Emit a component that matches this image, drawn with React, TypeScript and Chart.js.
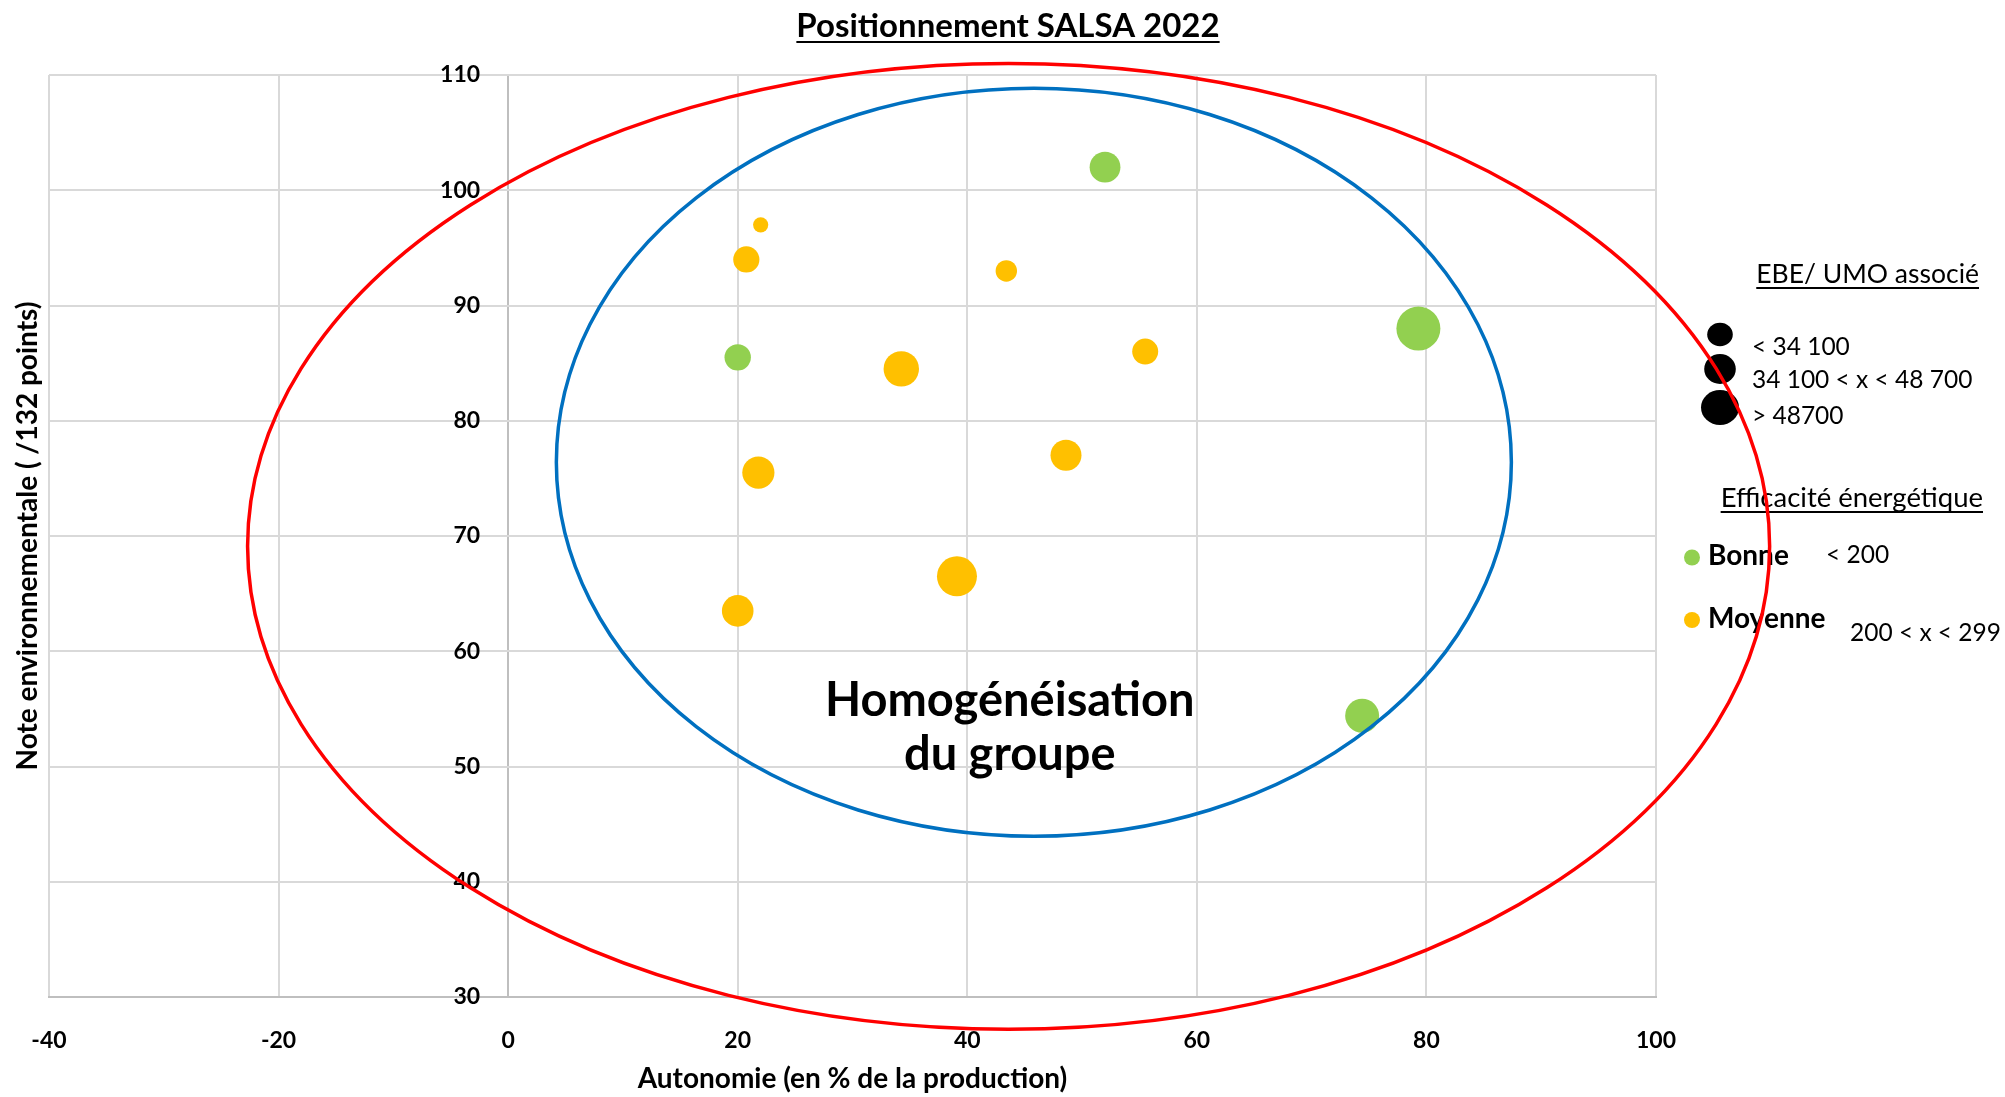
import React, { useEffect, useRef } from 'react';
import { Chart, registerables } from 'chart.js';

Chart.register(...registerables);

// ---------- Texts ----------
const chartTitle = 'Positionnement SALSA 2022';
const xAxisTitle = 'Autonomie (en % de la production)';
const yAxisTitle = 'Note environnementale ( /132 points)';
const groupLabel = ['Homogénéisation', 'du groupe'];

// ---------- Axes ----------
const xMin = -40;
const xMax = 100;
const xStep = 20;
const yMin = 30;
const yMax = 110;
const yStep = 10;

// ---------- Series : Efficacité énergétique "Bonne" ----------
const bonneX = [52, 20, 79.3, 74.4];
const bonneY = [102, 85.5, 88, 54.4];
const bonneR = [15.4, 13.2, 22, 17];

// ---------- Series : Efficacité énergétique "Moyenne" ----------
const moyenneX = [22, 20.75, 43.4, 34.25, 55.5, 21.8, 48.6, 39.1, 20];
const moyenneY = [97, 94, 93, 84.5, 86, 75.5, 77, 66.5, 63.5];
const moyenneR = [7.6, 13.1, 10.7, 17.7, 13, 16.1, 15.5, 20, 15.8];

// ---------- Group ellipses (data units) ----------
const ellipseCx = [43.6, 45.8];
const ellipseCy = [69.1, 76.4];
const ellipseRx = [66.3, 41.6];
const ellipseRy = [41.9, 32.45];

// ---------- Legends ----------
const sizeLegendTitle = 'EBE/ UMO associé';
const sizeLegendLabels = ['< 34 100', '34 100 < x < 48 700', '> 48700'];
const energyLegendTitle = 'Efficacité énergétique';
const energyLabels = ['Bonne', 'Moyenne'];
const energyRanges = ['< 200', '200 < x < 299'];

// ---------- Styles ----------
const GREEN = '#92d050';
const YELLOW = '#ffc000';
const ELLIPSE_COLORS = ['#ff0000', '#0070c0'];
const GRID = '#d9d9d9';
const AXIS = '#bfbfbf';
const FONT = 'Lato, "Open Sans", sans-serif';

function drawText(
  ctx: CanvasRenderingContext2D,
  text: string,
  x: number,
  y: number,
  align: CanvasTextAlign,
  font: string,
  underline = false
) {
  ctx.save();
  ctx.font = font;
  ctx.fillStyle = '#000';
  ctx.textAlign = align;
  ctx.textBaseline = 'alphabetic';
  ctx.fillText(text, x, y);
  if (underline) {
    const w = ctx.measureText(text).width;
    const x0 = align === 'center' ? x - w / 2 : align === 'right' ? x - w : x;
    ctx.fillRect(x0, y + 4, w, 2);
  }
  ctx.restore();
}

const overlayPlugin = {
  id: 'overlay',
  afterDatasetsDraw(chart: any) {
    const ctx: CanvasRenderingContext2D = chart.ctx;
    const xs = chart.scales.x;

    // Title
    drawText(ctx, chartTitle, 1008, 37, 'center', `bold 33px ${FONT}`, true);

    // Group label
    const gx = xs.getPixelForValue(43.7);
    drawText(ctx, groupLabel[0], gx, 716, 'center', `bold 47px ${FONT}`);
    drawText(ctx, groupLabel[1], gx, 770, 'center', `bold 47px ${FONT}`);

    // Size legend
    drawText(ctx, sizeLegendTitle, 1979, 283, 'right', `26.5px ${FONT}`, true);
    const dotCy = [334.5, 369, 407.5];
    const dotRx = [12.8, 15.8, 19];
    const dotRy = [11.7, 15, 17.5];
    const textY = [355, 388, 424];
    sizeLegendLabels.forEach((lab, i) => {
      ctx.save();
      ctx.beginPath();
      ctx.ellipse(1720, dotCy[i], dotRx[i], dotRy[i], 0, 0, Math.PI * 2);
      ctx.fillStyle = '#000';
      ctx.fill();
      ctx.restore();
      drawText(ctx, lab, 1752, textY[i], 'left', `24.5px ${FONT}`);
    });

    // Energy legend
    drawText(ctx, energyLegendTitle, 1983, 507, 'right', `27.5px ${FONT}`, true);
    const eDotY = [557.5, 620];
    const eLabY = [565, 628];
    const eRangeX = [1826, 1850];
    const eRangeY = [563, 641];
    const colors = [GREEN, YELLOW];
    energyLabels.forEach((lab, i) => {
      ctx.save();
      ctx.beginPath();
      ctx.arc(1692, eDotY[i], 8, 0, Math.PI * 2);
      ctx.fillStyle = colors[i];
      ctx.fill();
      ctx.restore();
      drawText(ctx, lab, 1708, eLabY[i], 'left', `bold 28px ${FONT}`);
      drawText(ctx, energyRanges[i], eRangeX[i], eRangeY[i], 'left', `24.5px ${FONT}`);
    });
  },
  afterDraw(chart: any) {
    const ctx: CanvasRenderingContext2D = chart.ctx;
    const xs = chart.scales.x;
    const ys = chart.scales.y;
    ellipseCx.forEach((cx, i) => {
      const px = xs.getPixelForValue(cx);
      const py = ys.getPixelForValue(ellipseCy[i]);
      const rx = Math.abs(xs.getPixelForValue(cx + ellipseRx[i]) - px);
      const ry = Math.abs(ys.getPixelForValue(ellipseCy[i] + ellipseRy[i]) - py);
      ctx.save();
      ctx.beginPath();
      ctx.ellipse(px, py, rx, ry, 0, 0, Math.PI * 2);
      ctx.strokeStyle = ELLIPSE_COLORS[i];
      ctx.lineWidth = 3.5;
      ctx.stroke();
      ctx.restore();
    });
  },
};

export default function App() {
  const ref = useRef<HTMLCanvasElement>(null);

  useEffect(() => {
    document.body.style.margin = '0';
    const tickFont = { family: FONT, size: 23, weight: 'bold' as const };
    const titleFont = { family: FONT, size: 28, weight: 'bold' as const };
    // y labels sit 28px left of the vertical axis (which crosses at x = 0)
    const labelOffset = (-28 * (xMax - xMin)) / 1607;
    const chart = new Chart(ref.current!, {
      type: 'bubble',
      data: {
        datasets: [
          {
            label: energyLabels[0],
            data: bonneX.map((v, i) => ({ x: v, y: bonneY[i], r: bonneR[i] })),
            backgroundColor: GREEN,
            borderWidth: 0,
            xAxisID: 'x',
            yAxisID: 'y',
          },
          {
            label: energyLabels[1],
            data: moyenneX.map((v, i) => ({ x: v, y: moyenneY[i], r: moyenneR[i] })),
            backgroundColor: YELLOW,
            borderWidth: 0,
            xAxisID: 'x',
            yAxisID: 'y',
          },
        ],
      },
      options: {
        responsive: false,
        devicePixelRatio: 1,
        animation: false,
        events: [],
        layout: { padding: { left: 0, right: 349, top: 75, bottom: 0 } },
        plugins: {
          legend: { display: false },
          tooltip: { enabled: false },
          title: { display: false },
        },
        scales: {
          x: {
            type: 'linear',
            min: xMin,
            max: xMax,
            ticks: { stepSize: xStep, font: tickFont, color: '#000', padding: 30 },
            grid: {
              color: (c: any) => (c.tick && c.tick.value === 0 ? AXIS : GRID),
              lineWidth: 2,
              drawTicks: false,
            },
            border: { color: AXIS, width: 2 },
            title: {
              display: true,
              text: xAxisTitle,
              font: titleFont,
              color: '#000',
              padding: { top: 0, bottom: 1 },
            },
            afterFit: (s: any) => {
              s.height = 100;
            },
          },
          y: {
            type: 'linear',
            min: yMin,
            max: yMax,
            position: { x: labelOffset },
            ticks: { stepSize: yStep, font: tickFont, color: '#000' },
            grid: { color: GRID, lineWidth: 2, drawTicks: false },
            border: { display: false },
          },
          yTitle: {
            type: 'linear',
            position: 'left',
            min: yMin,
            max: yMax,
            ticks: { display: false },
            grid: { display: false },
            border: { display: false },
            title: {
              display: true,
              text: yAxisTitle,
              font: titleFont,
              color: '#000',
              padding: { top: 11, bottom: 0 },
            },
            afterFit: (s: any) => {
              s.width = 49;
            },
          },
        } as any,
      },
      plugins: [overlayPlugin],
    });
    return () => chart.destroy();
  }, []);

  return (
    <div style={{ position: 'absolute', left: 0, top: 0, width: 2005, height: 1097, background: '#fff' }}>
      <canvas ref={ref} width={2005} height={1097} style={{ display: 'block' }} />
    </div>
  );
}
